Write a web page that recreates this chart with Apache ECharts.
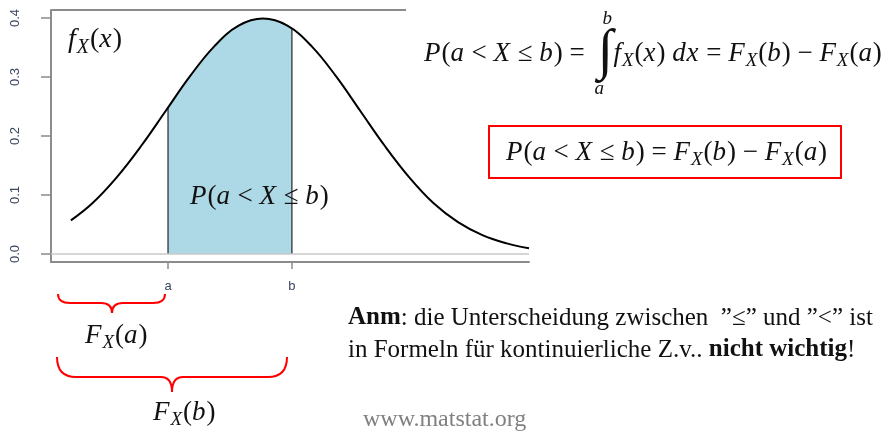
<!DOCTYPE html>
<html lang="de">
<head>
<meta charset="UTF-8">
<title>P(a &lt; X ≤ b)</title>
<script src="https://cdn.jsdelivr.net/npm/echarts@6/dist/echarts.min.js"></script>
</head>
<body style="margin:0;background:#fff">
<div id="main" style="width:890px;height:431px;"></div>
<script>
// density f_X(x)
const curveX = [-1.97, -1.75, -1.5, -1.25, -1, -0.75, -0.5, -0.25, 0, 0.25, 0.5, 0.75, 1, 1.25, 1.5, 1.75, 2, 2.25, 2.5, 2.728];
const curveY = [0.057, 0.086, 0.130, 0.183, 0.242, 0.301, 0.352, 0.387, 0.399, 0.387, 0.352, 0.301, 0.242, 0.183, 0.130, 0.086, 0.054, 0.032, 0.018, 0.0096];
// shaded part between a and b
const aX = -0.974, bX = 0.297;
const shadeX = [aX, -0.75, -0.5, -0.25, 0, 0.25, bX];
const shadeY = [0.248, 0.301, 0.352, 0.387, 0.399, 0.387, 0.381];
// axes
const yTicks = [0, 0.1, 0.2, 0.3, 0.4];
const xTicks = [aX, bX];
const xTickLabels = ['a', 'b'];

const zip = (xs, ys) => xs.map((x, i) => [x, ys[i]]);

// ---- formula layout (measured with canvas) ----
const ctx = document.createElement('canvas').getContext('2d');
const SERIF = "'Liberation Serif'";
const INK = '#111';
function fontOf(k, size) {
    const sz = k === 's' ? Math.round(size * 0.72) : size;
    return ((k === 'i' || k === 's') ? 'italic ' : '') + sz + 'px ' + SERIF;
}
function formula(x, y, size, toks) {
    let cx = x;
    const els = toks.map(([k, t]) => {
        const font = fontOf(k, size);
        ctx.font = font;
        const el = {
            type: 'text', x: cx, y: k === 's' ? y + size * 0.26 : y,
            style: {text: t, font: font, fill: INK, textVerticalAlign: 'middle', verticalAlign: 'middle'}
        };
        cx += ctx.measureText(t).width + ((k === 'i' || k === 's') ? size * 0.035 : 0);
        return el;
    });
    return {els: els, end: cx};
}
const T = s => s.split('|').map(p => [p[0], p.slice(1)]);
const tokP = T('iP|r(|ia|r < |iX|r ≤ |ib|r)');
const tokFa = T('iF|sX|r(|ia|r)');
const tokFb = T('iF|sX|r(|ib|r)');
const tokFx = T('if|sX|r(|ix|r)');

function brace(x1, x2, xt, yTop, yMid, yTip, r, rt) {
    const st = {stroke: '#ff0000', lineWidth: 2, fill: 'none'};
    const bz = (ax, ay, cx, cy, bx, by) => ({type: 'bezierCurve', shape: {x1: ax, y1: ay, cpx1: cx, cpy1: cy, x2: bx, y2: by}, style: st});
    const ln = (ax, bx) => ({type: 'line', shape: {x1: ax, y1: yMid, x2: bx, y2: yMid}, style: st});
    return [
        bz(x1, yTop, x1, yMid, x1 + r, yMid), ln(x1 + r, xt - rt),
        bz(xt - rt, yMid, xt, yMid, xt, yTip), bz(xt, yTip, xt, yMid, xt + rt, yMid),
        ln(xt + rt, x2 - r), bz(x2 - r, yMid, x2, yMid, x2, yTop)
    ];
}
const txt = (x, y, text, font, fill) => ({type: 'text', x: x, y: y, style: {text: text, font: font, fill: fill || INK, textVerticalAlign: 'middle', verticalAlign: 'middle'}});

let g = [];
// box top line of the plot
g.push({type: 'line', shape: {x1: 51, y1: 10, x2: 406, y2: 10}, style: {stroke: '#8c8c8c', lineWidth: 2}});
g = g.concat(formula(68, 40, 28, tokFx).els);
g = g.concat(formula(190, 197, 27, tokP).els);

// top formula with integral
let f1 = formula(424, 54, 27, tokP.concat(T('r = ')));
g = g.concat(f1.els);
g.push(txt(f1.end + 6, 53, '∫', '56px ' + SERIF));
g.push(txt(f1.end + 11, 19, 'b', 'italic 19px ' + SERIF));
g.push(txt(f1.end + 3, 89, 'a', 'italic 19px ' + SERIF));
let f2 = formula(f1.end + 22, 54, 27, tokFx.concat(T('r |id|ix|r = ')).concat(tokFb).concat(T('r − ')).concat(tokFa));
g = g.concat(f2.els);

// boxed formula
g.push({type: 'rect', shape: {x: 489, y: 126, width: 352, height: 52}, style: {stroke: '#ff0000', lineWidth: 2, fill: 'none'}});
g = g.concat(formula(506, 153, 27, tokP.concat(T('r = ')).concat(tokFb).concat(T('r − ')).concat(tokFa)).els);

// braces under the axis
g = g.concat(brace(58, 165, 112, 294, 303, 313, 12, 11));
g = g.concat(brace(57, 287, 172, 357, 377, 392, 19, 11));
g = g.concat(formula(85, 336, 27, tokFa).els);
g = g.concat(formula(153, 413, 27, tokFb).els);

// remark
const bold = {b: {fontWeight: 'bold', fontSize: 25, fontFamily: 'Liberation Serif'}};
g.push({
    type: 'text', x: 348, y: 318,
    style: {
        text: '{b|Anm}: die Unterscheidung zwischen  ”≤” und ”<” ist',
        font: '25px ' + SERIF, fill: INK, textVerticalAlign: 'middle', verticalAlign: 'middle', rich: bold
    }
});
g.push({
    type: 'text', x: 348, y: 350,
    style: {
        text: 'in Formeln für kontinuierliche Z.v.. {b|nicht wichtig}!',
        font: '25px ' + SERIF, fill: INK, textVerticalAlign: 'middle', verticalAlign: 'middle', rich: bold
    }
});
g.push(txt(363, 420, 'www.matstat.org', '24px ' + SERIF, '#808080'));
g.forEach(el => { el.z = 100; });

const chart = echarts.init(document.getElementById('main'));
const axisGray = '#8c8c8c';
const labelCol = '#3a4660';
chart.setOption({
    animation: false,
    grid: {left: 51, right: 361, top: 10, bottom: 169},
    xAxis: {
        type: 'value', min: -2.174, max: 2.728,
        axisLine: {onZero: false, lineStyle: {color: axisGray, width: 2}},
        axisTick: {customValues: xTicks, length: 7, lineStyle: {color: axisGray, width: 1.5}},
        axisLabel: {
            customValues: xTicks, margin: 18, fontSize: 13, fontFamily: 'Liberation Sans', color: labelCol,
            formatter: v => xTickLabels[xTicks.indexOf(v)]
        },
        splitLine: {show: false}
    },
    yAxis: {
        type: 'value', min: -0.0136, max: 0.4136,
        axisLine: {show: true, onZero: false, lineStyle: {color: axisGray, width: 2}},
        axisTick: {show: true, customValues: yTicks, length: 10, lineStyle: {color: axisGray, width: 1.5}},
        axisLabel: {
            customValues: yTicks, rotate: 90, margin: 29, fontSize: 13, fontFamily: 'Liberation Sans', color: labelCol,
            formatter: v => v.toFixed(1)
        },
        splitLine: {show: false}
    },
    series: [
        {
            type: 'line', data: zip(shadeX, shadeY), smooth: 0.4, symbol: 'none', silent: true, z: 1,
            lineStyle: {width: 0}, areaStyle: {color: '#add8e6', opacity: 1},
            markLine: {
                silent: true, symbol: 'none', label: {show: false},
                lineStyle: {color: '#c8c8c8', width: 1.5, type: 'solid'},
                data: [{yAxis: 0}]
            }
        },
        ...xTicks.map((x, i) => ({
            type: 'line', data: [[x, 0], [x, i === 0 ? shadeY[0] : shadeY[shadeY.length - 1]]],
            symbol: 'none', silent: true, z: 3, lineStyle: {color: '#000', width: 1}
        })),
        {
            type: 'line', data: zip(curveX, curveY), smooth: 0.4, symbol: 'none', silent: true, z: 4,
            lineStyle: {color: '#000', width: 2}
        }
    ],
    graphic: g
});
</script>
</body>
</html>
